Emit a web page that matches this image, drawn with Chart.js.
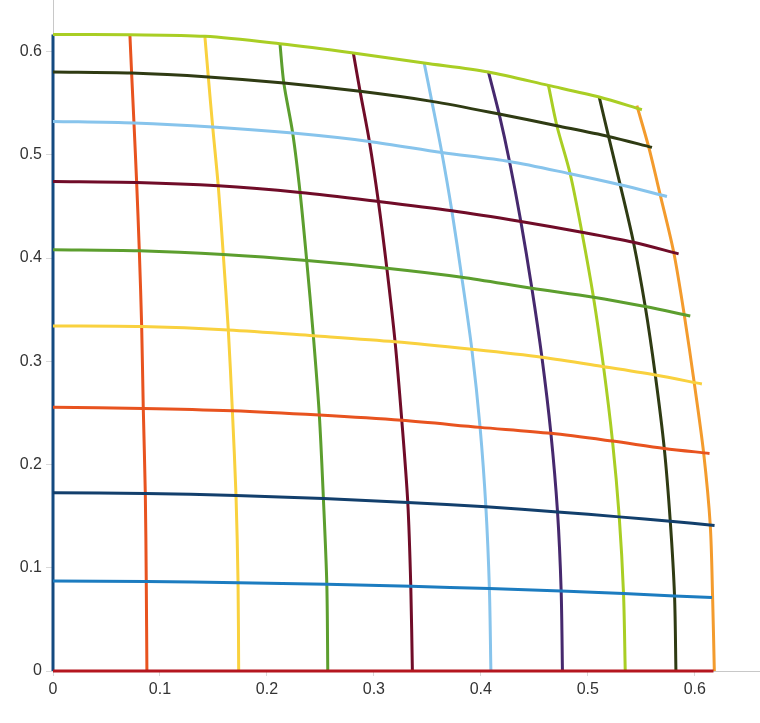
<!DOCTYPE html>
<html>
<head>
<meta charset="utf-8">
<script src="https://cdn.jsdelivr.net/npm/chart.js@4.4.1/dist/chart.umd.min.js"></script>
<style>
  html, body { margin: 0; padding: 0; background: #fff; }
  #wrap { width: 760px; height: 723px; }
</style>
</head>
<body>
<div id="wrap"><canvas id="gridChart" width="760" height="723"></canvas></div>
<script>
// grid crossings: xAt[i][j], yAt[i][j]
// i = steep curve (left to right), j = flat curve (bottom to top)
const xAt = [
  [0, 0, 0, 0, 0, 0, 0, 0, 0, 0],
  [0.0878, 0.0872, 0.0863, 0.0844, 0.0829, 0.0807, 0.0782, 0.0757, 0.0735, 0.0719],
  [0.1736, 0.1730, 0.1711, 0.1677, 0.1639, 0.1592, 0.1545, 0.1493, 0.1452, 0.1420],
  [0.2569, 0.2560, 0.2528, 0.2490, 0.2434, 0.2372, 0.2310, 0.2241, 0.2158, 0.2122],
  [0.3360, 0.3345, 0.3317, 0.3261, 0.3198, 0.3121, 0.3042, 0.2958, 0.2871, 0.2808],
  [0.4094, 0.4080, 0.4047, 0.3993, 0.3916, 0.3822, 0.3729, 0.3635, 0.3542, 0.3470],
  [0.4763, 0.4751, 0.4717, 0.4655, 0.4571, 0.4477, 0.4374, 0.4268, 0.4171, 0.4071],
  [0.5350, 0.5334, 0.5294, 0.5231, 0.5147, 0.5053, 0.4945, 0.4835, 0.4711, 0.4632],
  [0.5824, 0.5811, 0.5771, 0.5715, 0.5631, 0.5537, 0.5427, 0.5303, 0.5194, 0.5107],
  [0.6183, 0.6167, 0.6145, 0.6083, 0.5995, 0.5902, 0.5802, 0.5677, 0.5568, 0.5459]
];
const yAt = [
  [0, 0.0872, 0.1726, 0.2554, 0.3342, 0.4080, 0.4742, 0.5324, 0.5803, 0.6165],
  [0, 0.0866, 0.1720, 0.2544, 0.3336, 0.4070, 0.4733, 0.5308, 0.5793, 0.6163],
  [0, 0.0856, 0.1700, 0.2521, 0.3304, 0.4034, 0.4700, 0.5270, 0.5755, 0.6148],
  [0, 0.0840, 0.1671, 0.2479, 0.3248, 0.3976, 0.4635, 0.5211, 0.5696, 0.6076],
  [0, 0.0821, 0.1632, 0.2428, 0.3190, 0.3902, 0.4548, 0.5130, 0.5615, 0.5987],
  [0, 0.0798, 0.1590, 0.2360, 0.3116, 0.3815, 0.4458, 0.5023, 0.5518, 0.5890],
  [0, 0.0775, 0.1541, 0.2302, 0.3039, 0.3708, 0.4354, 0.4936, 0.5396, 0.5803],
  [0, 0.0750, 0.1493, 0.2227, 0.2948, 0.3621, 0.4251, 0.4817, 0.5282, 0.5673],
  [0, 0.0727, 0.1451, 0.2156, 0.2867, 0.3530, 0.4154, 0.4710, 0.5178, 0.5560],
  [0, 0.0711, 0.1412, 0.2113, 0.2792, 0.3449, 0.4063, 0.4613, 0.5081, 0.5476]
];
// flat curves run a little past the last steep curve
const flatEndX = [0.6175, 0.6160, 0.6185, 0.6138, 0.6067, 0.5958, 0.5849, 0.5740, 0.5600, 0.5506];
const flatEndY = [0, 0.0711, 0.1409, 0.2108, 0.2780, 0.3439, 0.4041, 0.4597, 0.5072, 0.5437];

const flatColors  = ['#B5161F', '#1C7CC0', '#123F6C', '#E8531F', '#F9D13E',
                     '#5C9E2E', '#700C28', '#87C4EC', '#2F3B13', '#A9CE24'];
const steepColors = ['#144A80', '#E8531F', '#F9D13E', '#5C9E2E', '#700C28',
                     '#87C4EC', '#46296E', '#A9CE24', '#2F3B13', '#F39B2D'];

const xTicks = [0, 0.1, 0.2, 0.3, 0.4, 0.5, 0.6];
const yTicks = [0, 0.1, 0.2, 0.3, 0.4, 0.5, 0.6];

function lineSet(points, color) {
  return {
    data: points,
    showLine: true,
    borderColor: color,
    backgroundColor: color,
    borderWidth: 3,
    pointRadius: 0,
    tension: 0.3,
    clip: false,
    fill: false
  };
}

const datasets = [];
flatColors.forEach((c, j) => {
  const pts = [];
  for (let i = 0; i < xAt.length - 1; i++) pts.push({ x: xAt[i][j], y: yAt[i][j] });
  pts.push({ x: flatEndX[j], y: flatEndY[j] });
  datasets.push(lineSet(pts, c));
});
steepColors.forEach((c, i) => {
  const pts = xAt[i].map((x, j) => ({ x: x, y: yAt[i][j] }));
  datasets.push(lineSet(pts, c));
});

const tickFont = { family: '"Liberation Sans", Arial, sans-serif', size: 16 };

new Chart(document.getElementById('gridChart'), {
  type: 'scatter',
  data: { datasets: datasets },
  options: {
    responsive: false,
    animation: false,
    layout: { padding: 0 },
    plugins: { legend: { display: false }, tooltip: { enabled: false } },
    scales: {
      x: {
        type: 'linear',
        min: 0,
        max: 0.661,
        afterBuildTicks: s => { s.ticks = xTicks.map(v => ({ value: v })); },
        afterFit: s => { s.height = 52; s.paddingLeft = 0; s.paddingRight = 0; },
        ticks: { font: tickFont, color: '#333', padding: 4, callback: v => String(v) },
        grid: { drawOnChartArea: false, drawTicks: true, tickLength: 5, color: '#d9d9d9' },
        border: { display: true, color: '#c8c8c8', width: 1 }
      },
      y: {
        type: 'linear',
        min: 0,
        max: 0.65,
        afterBuildTicks: s => { s.ticks = yTicks.map(v => ({ value: v })); },
        afterFit: s => { s.width = 53; s.paddingTop = 0; s.paddingBottom = 0; },
        ticks: { font: tickFont, color: '#333', padding: 4, callback: v => String(v) },
        grid: { drawOnChartArea: false, drawTicks: true, tickLength: 7, color: '#d9d9d9' },
        border: { display: true, color: '#c8c8c8', width: 1 }
      }
    }
  }
});
</script>
</body>
</html>
